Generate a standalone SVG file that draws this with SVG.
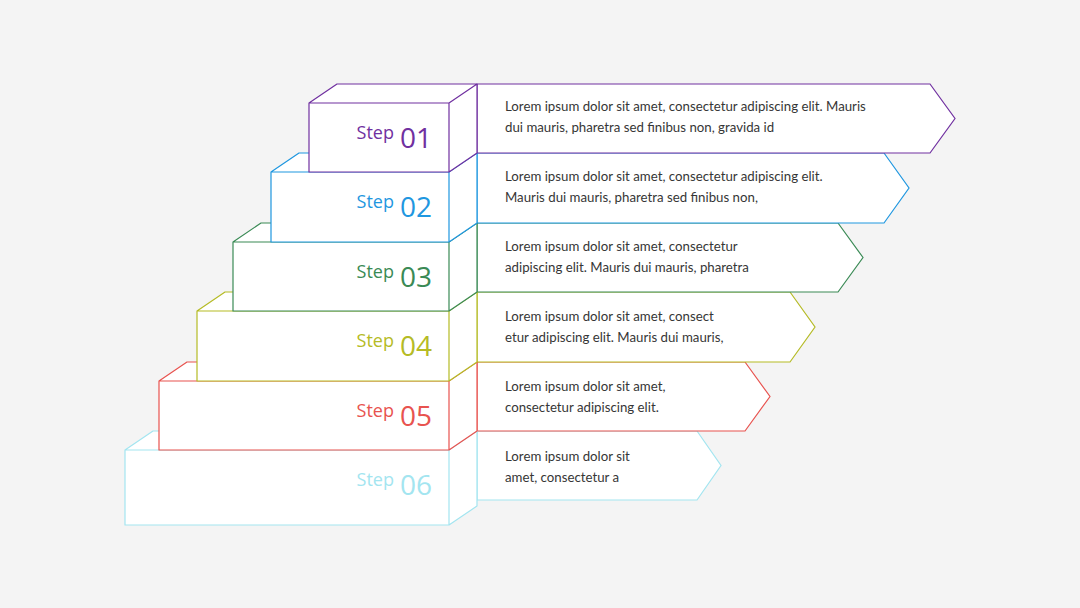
<svg xmlns="http://www.w3.org/2000/svg" width="1080" height="608" viewBox="0 0 1080 608">
<style>
.bx{fill:#fff;stroke-width:1.2;stroke-linejoin:round}
.ar{fill:#fff;stroke-width:1.2;stroke-linejoin:miter}
.st{font-family:"Open Sans","Liberation Sans",sans-serif;font-size:18px}
.nm{font-family:"Open Sans","Liberation Sans",sans-serif;font-size:28px}
.tx{font-family:Lato,"Liberation Sans",sans-serif;font-size:13.25px;fill:#363636}
</style>
<rect width="1080" height="608" fill="#f4f4f4"/>
<g id="connectors"></g>
<g id="arrow6"><path class="ar" style="stroke:#a3e5f0" d="M477,431 H697 L721,465.5 L697,500 H477 Z"/>
<text class="tx" x="505" y="461">Lorem ipsum dolor sit</text><text class="tx" x="505" y="482">amet, consectetur a</text></g>
<g id="arrow5"><path class="ar" style="stroke:#e8534f" d="M477,362 H745 L770,396.5 L745,431 H477 Z"/>
<text class="tx" x="505" y="391">Lorem ipsum dolor sit amet,</text><text class="tx" x="505" y="412">consectetur adipiscing elit.</text></g>
<g id="arrow4"><path class="ar" style="stroke:#b5bb25" d="M477,292 H790 L815,327 L790,362 H477 Z"/>
<text class="tx" x="505" y="321">Lorem ipsum dolor sit amet, consect</text><text class="tx" x="505" y="342">etur adipiscing elit. Mauris dui mauris,</text></g>
<g id="arrow3"><path class="ar" style="stroke:#3a8a55" d="M477,223 H838 L863,257.5 L838,292 H477 Z"/>
<text class="tx" x="505" y="251">Lorem ipsum dolor sit amet, consectetur</text><text class="tx" x="505" y="272">adipiscing elit. Mauris dui mauris, pharetra</text></g>
<g id="arrow2"><path class="ar" style="stroke:#1f97e0" d="M477,153 H884 L909,188 L884,223 H477 Z"/>
<text class="tx" x="505" y="181">Lorem ipsum dolor sit amet, consectetur adipiscing elit.</text><text class="tx" x="505" y="202">Mauris dui mauris, pharetra sed finibus non,</text></g>
<g id="arrow1"><path class="ar" style="stroke:#7030a0" d="M477,84 H930 L955,118.5 L930,153 H477 Z"/>
<text class="tx" x="505" y="111">Lorem ipsum dolor sit amet, consectetur adipiscing elit. Mauris</text><text class="tx" x="505" y="132">dui mauris, pharetra sed finibus non, gravida id</text></g>

<g id="box6"><path class="bx" style="stroke:#a3e5f0" d="M125,450 L153,431 H477 V506 L449,525 H125 Z M125,450 H449 V525 M449,450 L477,431"/>
<text x="432" y="495" text-anchor="end" style="fill:#a3e5f0"><tspan class="st" dy="-9">Step</tspan><tspan class="nm" dx="6" dy="9">06</tspan></text></g>
<g id="box5"><path class="bx" style="stroke:#e8534f" d="M159,381 L187,362 H477 V431 L449,450 H159 Z M159,381 H449 V450 M449,381 L477,362"/>
<text x="432" y="426" text-anchor="end" style="fill:#e8534f"><tspan class="st" dy="-9">Step</tspan><tspan class="nm" dx="6" dy="9">05</tspan></text></g>
<g id="box4"><path class="bx" style="stroke:#b5bb25" d="M197,311 L225,292 H477 V362 L449,381 H197 Z M197,311 H449 V381 M449,311 L477,292"/>
<text x="432" y="356" text-anchor="end" style="fill:#b5bb25"><tspan class="st" dy="-9">Step</tspan><tspan class="nm" dx="6" dy="9">04</tspan></text></g>
<g id="box3"><path class="bx" style="stroke:#3a8a55" d="M233,242 L261,223 H477 V292 L449,311 H233 Z M233,242 H449 V311 M449,242 L477,223"/>
<text x="432" y="287" text-anchor="end" style="fill:#3a8a55"><tspan class="st" dy="-9">Step</tspan><tspan class="nm" dx="6" dy="9">03</tspan></text></g>
<g id="box2"><path class="bx" style="stroke:#1f97e0" d="M271,172 L299,153 H477 V223 L449,242 H271 Z M271,172 H449 V242 M449,172 L477,153"/>
<text x="432" y="217" text-anchor="end" style="fill:#1f97e0"><tspan class="st" dy="-9">Step</tspan><tspan class="nm" dx="6" dy="9">02</tspan></text></g>
<g id="box1"><path class="bx" style="stroke:#7030a0" d="M309,103 L337,84 H477 V153 L449,172 H309 Z M309,103 H449 V172 M449,103 L477,84"/>
<text x="432" y="148" text-anchor="end" style="fill:#7030a0"><tspan class="st" dy="-9">Step</tspan><tspan class="nm" dx="6" dy="9">01</tspan></text></g>
</svg>
